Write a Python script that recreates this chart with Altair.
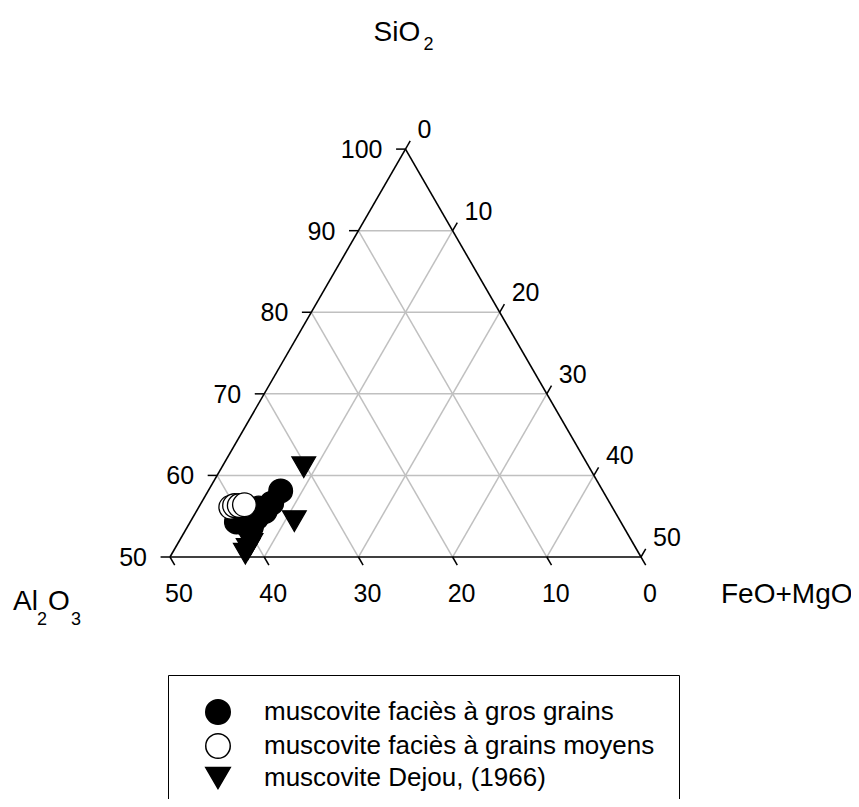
import altair as alt
import pandas as pd

# ---------------- data (wt %) ----------------
series_names = ["muscovite faciès à gros grains",
                "muscovite faciès à grains moyens",
                "muscovite Dejou, (1966)"]

gros_SiO2 = [58.1, 56.6, 55.6, 54.8, 54.1, 54.9, 54.3, 53.7, 56.0]
gros_Al2O3 = [34.2, 35.9, 37.1, 38.4, 40.0, 40.1, 40.8, 39.5, 37.6]
gros_FeMg = [7.7, 7.5, 7.3, 6.8, 5.9, 5.0, 4.9, 6.8, 6.4]

moyens_SiO2 = [56.1, 56.3, 56.3, 56.4]
moyens_Al2O3 = [40.5, 40.0, 39.5, 38.9]
moyens_FeMg = [3.4, 3.7, 4.2, 4.7]

dejou_SiO2 = [61.0, 54.4, 51.6, 51.0, 50.4]
dejou_Al2O3 = [30.3, 34.6, 40.6, 41.2, 41.8]
dejou_FeMg = [8.7, 11.0, 7.8, 7.8, 7.8]

sio2_ticks = [50, 60, 70, 80, 90, 100]
feomgo_ticks = [0, 10, 20, 30, 40, 50]
al2o3_ticks = [50, 40, 30, 20, 10, 0]
grid_values = [10, 20, 30, 40]

# triangle corners as compositions (SiO2, FeO+MgO)
corner_S = [100, 50, 50]
corner_F = [0, 0, 50]

# ---------------- layout ----------------
W, H = 843, 791
K = 9.42              # pixels per composition unit
X0, Y0 = 170, 557     # page position of the 50/50/0 corner
xmin = -(X0 - 8) / K
xmax = xmin + W / K
ymax = (Y0 - 8) / K
ymin = ymax - H / K
xs = alt.Scale(domain=[xmin, xmax], nice=False, zero=False)
ys = alt.Scale(domain=[ymin, ymax], nice=False, zero=False)
FONT = "Liberation Sans"
TL = 1.0  # tick length in composition units


def px(S, F):
    return f"({F}) + (({S}) - 50) / 2"


def py(S):
    return f"(({S}) - 50) * sqrt(3) / 2"


def X(f):
    return alt.X(f"{f}:Q", scale=xs, axis=None)


def Y(f):
    return alt.Y(f"{f}:Q", scale=ys, axis=None)


def X2(f):
    return alt.X2(f"{f}:Q")


def Y2(f):
    return alt.Y2(f"{f}:Q")


# ---------------- grid ----------------
gdf = pd.DataFrame({"g": grid_values})
grid_S = alt.Chart(gdf).transform_calculate(
    S="50 + datum.g",
    x=px("datum.S", "0"), y=py("datum.S"),
    x2=px("datum.S", "100 - datum.S"), y2=py("datum.S"),
)
grid_F = alt.Chart(gdf).transform_calculate(
    x=px("50", "datum.g"), y=py("50"),
    x2=px("100 - datum.g", "datum.g"), y2=py("100 - datum.g"),
)
grid_A = alt.Chart(gdf).transform_calculate(
    x=px("50", "50 - datum.g"), y=py("50"),
    x2=px("100 - datum.g", "0"), y2=py("100 - datum.g"),
)
grid_layers = [
    c.mark_rule(color="#c0c0c0", strokeWidth=1.5).encode(
        x=X("x"), y=Y("y"), x2=X2("x2"), y2=Y2("y2"))
    for c in (grid_S, grid_F, grid_A)
]

# ---------------- triangle edges ----------------
edf = pd.DataFrame({
    "S1": corner_S, "F1": corner_F,
    "S2": corner_S[1:] + corner_S[:1], "F2": corner_F[1:] + corner_F[:1],
})
edges = alt.Chart(edf).transform_calculate(
    x=px("datum.S1", "datum.F1"), y=py("datum.S1"),
    x2=px("datum.S2", "datum.F2"), y2=py("datum.S2"),
).mark_rule(color="black", strokeWidth=1.6).encode(
    x=X("x"), y=Y("y"), x2=X2("x2"), y2=Y2("y2"))

# ---------------- ticks & labels ----------------
sdf = pd.DataFrame({"t": sio2_ticks})
fdf = pd.DataFrame({"t": feomgo_ticks})
adf = pd.DataFrame({"t": al2o3_ticks})

left_base = alt.Chart(sdf).transform_calculate(
    x=px("datum.t", "0"), y=py("datum.t"),
    x2=f"datum.x - {TL}", y2="datum.y", lab="''+datum.t")
right_base = alt.Chart(fdf).transform_calculate(
    x=px("100 - datum.t", "datum.t"), y=py("100 - datum.t"),
    x2=f"datum.x + {TL}*0.5", y2=f"datum.y + {TL}*0.866", lab="''+datum.t")
bottom_base = alt.Chart(adf).transform_calculate(
    x=px("50", "50 - datum.t"), y=py("50"),
    x2=f"datum.x + {TL}*0.5", y2=f"datum.y - {TL}*0.866", lab="''+datum.t")

tick_layers = [
    b.mark_rule(color="black", strokeWidth=1.5).encode(
        x=X("x"), y=Y("y"), x2=X2("x2"), y2=Y2("y2"))
    for b in (left_base, right_base, bottom_base)
]
lab_style = dict(font=FONT, fontSize=25, color="black", baseline="middle")
label_layers = [
    left_base.mark_text(align="right", dx=-23, dy=1, **lab_style).encode(
        x=X("x"), y=Y("y"), text="lab:N"),
    right_base.mark_text(align="left", dx=12, dy=-19, **lab_style).encode(
        x=X("x"), y=Y("y"), text="lab:N"),
    bottom_base.mark_text(align="center", dx=9, dy=37, **lab_style).encode(
        x=X("x"), y=Y("y"), text="lab:N"),
]

# ---------------- axis titles (with subscripts) ----------------
cdf = pd.DataFrame({"S": corner_S, "F": corner_F})
corners = alt.Chart(cdf).transform_calculate(
    x=px("datum.S", "datum.F"), y=py("datum.S"))


def title_part(idx, text, dx, dy, size):
    return corners.transform_filter(
        f"datum.S == {corner_S[idx]} && datum.F == {corner_F[idx]}").mark_text(
        text=text, font=FONT, fontSize=size, color="black", align="left",
        baseline="alphabetic", dx=dx, dy=dy).encode(x=X("x"), y=Y("y"))


title_layers = [
    title_part(0, "SiO", -32, -108, 28),
    title_part(0, "2", 18, -99, 18),
    title_part(1, "Al", -157, 53, 28),
    title_part(1, "2", -133, 68, 18),
    title_part(1, "O", -122, 53, 28),
    title_part(1, "3", -99, 68, 18),
    title_part(2, "FeO+MgO", 80, 46, 28),
]

# ---------------- data points ----------------
pts = pd.DataFrame({
    "series": [series_names[0]] * len(gros_SiO2) + [series_names[1]] * len(moyens_SiO2)
    + [series_names[2]] * len(dejou_SiO2),
    "S": gros_SiO2 + moyens_SiO2 + dejou_SiO2,
    "A": gros_Al2O3 + moyens_Al2O3 + dejou_Al2O3,
    "F": gros_FeMg + moyens_FeMg + dejou_FeMg,
})
pts["order"] = range(len(pts))

leg = dict(title=None, orient="none", legendX=160, legendY=667)
points = alt.Chart(pts).transform_calculate(
    tot="datum.S + datum.A + datum.F",
    Sn="100 * datum.S / datum.tot", Fn="100 * datum.F / datum.tot",
    x=px("datum.Sn", "datum.Fn"), y=py("datum.Sn"),
).mark_point(size=560, strokeWidth=1.3, opacity=1).encode(
    x=X("x"), y=Y("y"),
    shape=alt.Shape("series:N", scale=alt.Scale(domain=series_names,
                    range=["circle", "circle", "triangle-down"]), legend=alt.Legend(**leg)),
    fill=alt.Fill("series:N", scale=alt.Scale(domain=series_names,
                  range=["black", "white", "black"]), legend=alt.Legend(**leg)),
    stroke=alt.Stroke("series:N", scale=alt.Scale(domain=series_names,
                      range=["black", "black", "black"]), legend=alt.Legend(**leg)),
    order=alt.Order("order:Q"),
)

chart = alt.layer(*grid_layers, edges, *tick_layers, *label_layers, *title_layers, points).properties(
    width=W, height=H,
    autosize=alt.AutoSizeParams(type="none"),
    padding=0,
).configure_view(stroke=None).configure_legend(
    padding=24, strokeColor="black", fillColor="white",
    symbolSize=600, symbolStrokeWidth=1.5, symbolOpacity=1,
    symbolOffset=13, labelOffset=33, labelFontSize=26, labelFont=FONT, labelColor="black",
    labelLimit=800, rowPadding=2, cornerRadius=0,
)

chart.save("out.html", embed_options={"renderer": "svg", "actions": False})
